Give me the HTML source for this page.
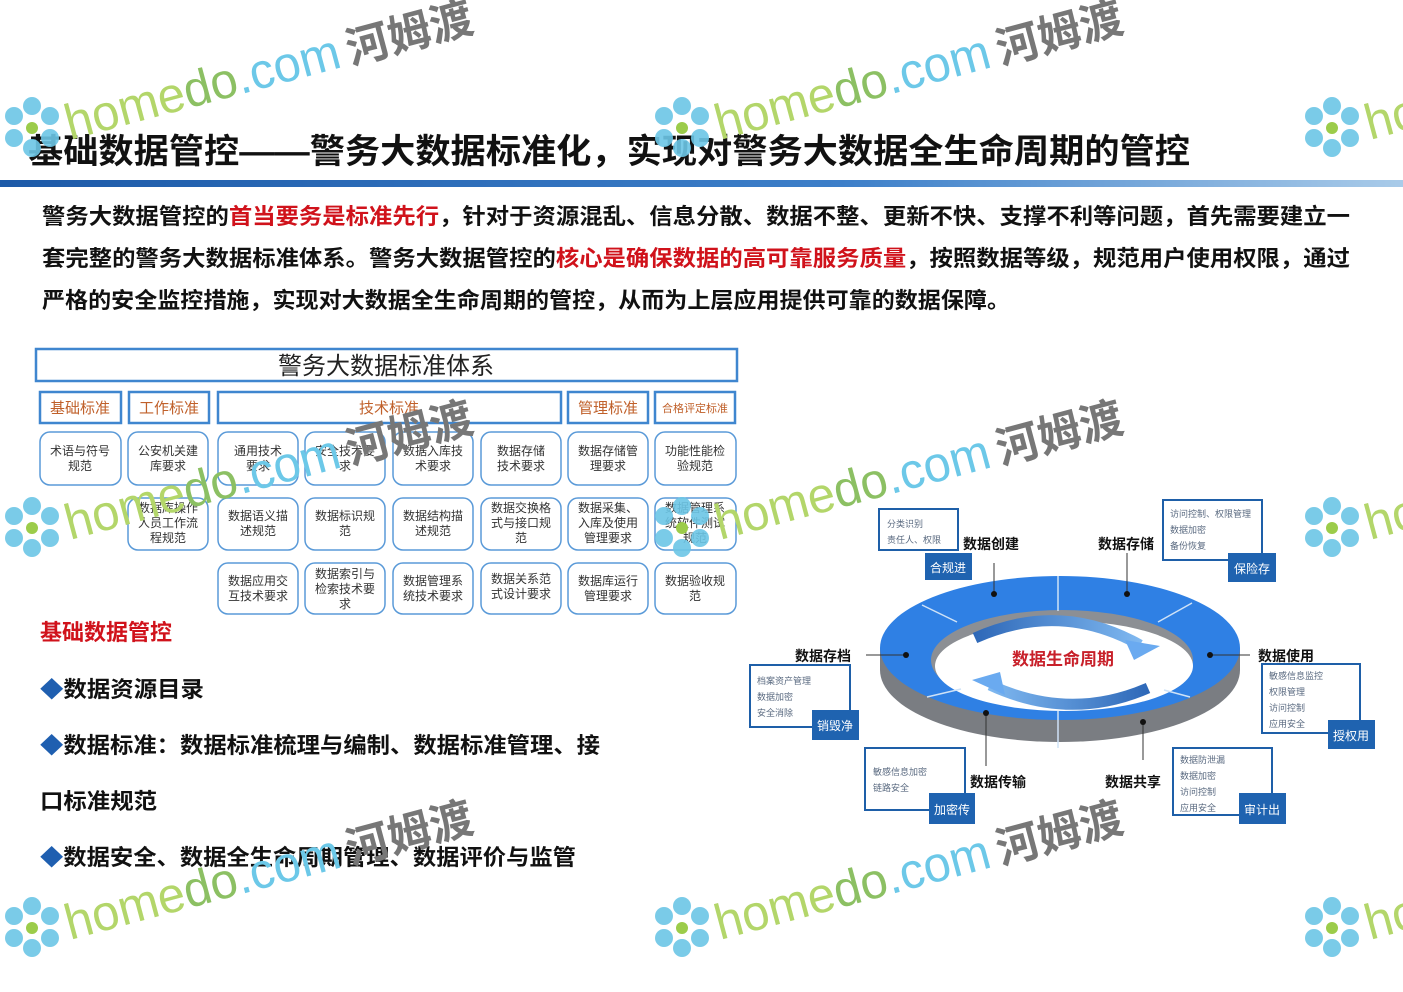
<!DOCTYPE html>
<html><head><meta charset="utf-8"><style>
html,body{margin:0;padding:0;background:#fff;}
svg{display:block;}
text{font-family:"Liberation Sans","Noto Sans CJK SC",sans-serif;}
</style></head><body>
<svg width="1403" height="992" viewBox="0 0 1403 992" xmlns="http://www.w3.org/2000/svg">
<defs>
<linearGradient id="bar" x1="0" x2="1"><stop offset="0" stop-color="#1d5aa8"/><stop offset="0.6" stop-color="#3d7fc9"/><stop offset="1" stop-color="#a9cbe9"/></linearGradient>
<linearGradient id="arr1" x1="0" x2="1"><stop offset="0" stop-color="#2e68b8"/><stop offset="1" stop-color="#7fb8f0"/></linearGradient>
<linearGradient id="arr2" x1="1" x2="0"><stop offset="0" stop-color="#2e68b8"/><stop offset="1" stop-color="#7fb8f0"/></linearGradient>
<g id="wm">
  <g fill="#6cc6e6" opacity="0.9">
    <circle cx="0" cy="-22" r="9"/><circle cx="18" cy="-12" r="9"/><circle cx="18" cy="10" r="9"/><circle cx="0" cy="20" r="9"/><circle cx="-18" cy="10" r="9"/><circle cx="-18" cy="-12" r="9"/>
  </g>
  <circle cx="0" cy="0" r="6" fill="#9ccc4a"/>
  <g transform="translate(38,12) rotate(-15)">
    <text x="0" y="0" font-size="50" fill="#b3d66a" font-family="Liberation Sans,sans-serif" textLength="420" lengthAdjust="spacingAndGlyphs">home<tspan fill="#8cc063">do</tspan><tspan fill="#6cc8e8">.com</tspan><tspan fill="#777" font-weight="bold" font-size="44" dx="8">河姆渡</tspan></text>
  </g>
</g>
</defs>

<text x="28" y="163" font-size="34" font-weight="bold" fill="#111" textLength="1162" lengthAdjust="spacingAndGlyphs">基础数据管控——警务大数据标准化，实现对警务大数据全生命周期的管控</text>
<rect x="0" y="180" width="1403" height="7" fill="url(#bar)"/>

<g font-size="22" font-weight="bold" fill="#111">
<text x="42" y="224" textLength="1308" lengthAdjust="spacingAndGlyphs">警务大数据管控的<tspan fill="#d0121b">首当要务是标准先行</tspan>，针对于资源混乱、信息分散、数据不整、更新不快、支撑不利等问题，首先需要建立一</text>
<text x="42" y="266" textLength="1308" lengthAdjust="spacingAndGlyphs">套完整的警务大数据标准体系。警务大数据管控的<tspan fill="#d0121b">核心是确保数据的高可靠服务质量</tspan>，按照数据等级，规范用户使用权限，通过</text>
<text x="42" y="308" textLength="968" lengthAdjust="spacingAndGlyphs">严格的安全监控措施，实现对大数据全生命周期的管控，从而为上层应用提供可靠的数据保障。</text>
</g>

<g fill="#fff" stroke="#3f86cf" stroke-width="2.5">
<rect x="36" y="349" width="701" height="32"/>
<rect x="40" y="392" width="81" height="31"/>
<rect x="129" y="392" width="80" height="31"/>
<rect x="218" y="392" width="343" height="31"/>
<rect x="568" y="392" width="80" height="31"/>
<rect x="655" y="392" width="80" height="31"/>
</g>
<text x="386" y="374" font-size="24" fill="#222" text-anchor="middle">警务大数据标准体系</text>
<g font-size="15" fill="#c0602a" text-anchor="middle">
<text x="80" y="413">基础标准</text><text x="169" y="413">工作标准</text><text x="389" y="413">技术标准</text><text x="608" y="413">管理标准</text><text x="695" y="412" font-size="11">合格评定标准</text>
</g>
<g fill="#fff" stroke="#5a9ad8" stroke-width="1.5">
<rect x="40" y="432" width="81" height="53" rx="10"/><rect x="128" y="432" width="80" height="53" rx="10"/><rect x="218" y="432" width="80" height="53" rx="10"/><rect x="305" y="432" width="80" height="53" rx="10"/><rect x="393" y="432" width="80" height="53" rx="10"/><rect x="481" y="432" width="80" height="53" rx="10"/><rect x="568" y="432" width="80" height="53" rx="10"/><rect x="655" y="432" width="81" height="53" rx="10"/>
<rect x="128" y="498" width="80" height="52" rx="10"/><rect x="218" y="498" width="80" height="52" rx="10"/><rect x="305" y="498" width="80" height="52" rx="10"/><rect x="393" y="498" width="80" height="52" rx="10"/><rect x="481" y="498" width="80" height="52" rx="10"/><rect x="568" y="498" width="80" height="52" rx="10"/><rect x="655" y="498" width="81" height="52" rx="10"/>
<rect x="218" y="563" width="80" height="51" rx="10"/><rect x="305" y="563" width="80" height="51" rx="10"/><rect x="393" y="563" width="80" height="51" rx="10"/><rect x="481" y="563" width="80" height="51" rx="10"/><rect x="568" y="563" width="80" height="51" rx="10"/><rect x="655" y="563" width="81" height="51" rx="10"/>
</g>
<g font-size="12" fill="#333" text-anchor="middle">
<text x="80" y="455">术语与符号</text><text x="80" y="470">规范</text>
<text x="168" y="455">公安机关建</text><text x="168" y="470">库要求</text>
<text x="258" y="455">通用技术</text><text x="258" y="470">要求</text>
<text x="345" y="455">安全技术要</text><text x="345" y="470">求</text>
<text x="433" y="455">数据入库技</text><text x="433" y="470">术要求</text>
<text x="521" y="455">数据存储</text><text x="521" y="470">技术要求</text>
<text x="608" y="455">数据存储管</text><text x="608" y="470">理要求</text>
<text x="695" y="455">功能性能检</text><text x="695" y="470">验规范</text>
<text x="168" y="512">数据库操作</text><text x="168" y="527">人员工作流</text><text x="168" y="542">程规范</text>
<text x="258" y="520">数据语义描</text><text x="258" y="535">述规范</text>
<text x="345" y="520">数据标识规</text><text x="345" y="535">范</text>
<text x="433" y="520">数据结构描</text><text x="433" y="535">述规范</text>
<text x="521" y="512">数据交换格</text><text x="521" y="527">式与接口规</text><text x="521" y="542">范</text>
<text x="608" y="512">数据采集、</text><text x="608" y="527">入库及使用</text><text x="608" y="542">管理要求</text>
<text x="695" y="512">数据管理系</text><text x="695" y="527">统软件测试</text><text x="695" y="542">规范</text>
<text x="258" y="585">数据应用交</text><text x="258" y="600">互技术要求</text>
<text x="345" y="578">数据索引与</text><text x="345" y="593">检索技术要</text><text x="345" y="608">求</text>
<text x="433" y="585">数据管理系</text><text x="433" y="600">统技术要求</text>
<text x="521" y="583">数据关系范</text><text x="521" y="598">式设计要求</text>
<text x="608" y="585">数据库运行</text><text x="608" y="600">管理要求</text>
<text x="695" y="585">数据验收规</text><text x="695" y="600">范</text>
</g>

<g font-size="22" font-weight="bold" fill="#111">
<text x="40" y="640" fill="#d0121b">基础数据管控</text>
<text x="40" y="697" textLength="164" lengthAdjust="spacingAndGlyphs"><tspan fill="#1f5fb0">◆</tspan>数据资源目录</text>
<text x="40" y="753" textLength="560" lengthAdjust="spacingAndGlyphs"><tspan fill="#1f5fb0">◆</tspan>数据标准：数据标准梳理与编制、数据标准管理、接</text>
<text x="40" y="809" textLength="117" lengthAdjust="spacingAndGlyphs">口标准规范</text>
<text x="40" y="865" textLength="536" lengthAdjust="spacingAndGlyphs"><tspan fill="#1f5fb0">◆</tspan>数据安全、数据全生命周期管理、数据评价与监管</text>
</g>

<ellipse cx="1060" cy="670" rx="180" ry="72" fill="#7a7d82"/>
<rect x="880" y="648" width="360" height="22" fill="#7a7d82"/>
<ellipse cx="1060" cy="648" rx="180" ry="72" fill="#2f80e4"/>
<ellipse cx="1062" cy="660" rx="131" ry="50" fill="#8c8f94"/>
<ellipse cx="1064" cy="666" rx="129" ry="45" fill="#fff"/>
<g stroke="#cfe2f7" stroke-width="1.5">
<line x1="1058" y1="576" x2="1058" y2="611"/>
<line x1="922" y1="605" x2="957" y2="622"/>
<line x1="1192" y1="603" x2="1158" y2="622"/>
<line x1="927" y1="697" x2="961" y2="689"/>
<line x1="1190" y1="697" x2="1164" y2="690"/>
<line x1="1058" y1="711" x2="1058" y2="748"/>
</g>
<path d="M975 638 Q1060 600 1140 645" fill="none" stroke="url(#arr1)" stroke-width="11"/>
<polygon points="1125,640 1160,646 1134,660" fill="#6aaaf0"/>
<path d="M1148 688 Q1070 722 990 685" fill="none" stroke="url(#arr2)" stroke-width="11"/>
<polygon points="1005,695 972,680 1000,672" fill="#6aaaf0"/>
<text x="1063" y="665" font-size="17" font-weight="bold" fill="#c8202a" text-anchor="middle">数据生命周期</text>

<g stroke="#333" stroke-width="1">
<line x1="994" y1="563" x2="994" y2="594"/><line x1="1127" y1="553" x2="1127" y2="594"/>
<line x1="866" y1="655" x2="906" y2="655"/><line x1="1210" y1="655" x2="1250" y2="655"/>
<line x1="986" y1="713" x2="986" y2="766"/><line x1="1143" y1="722" x2="1143" y2="760"/>
</g>
<g fill="#111"><circle cx="994" cy="594" r="3"/><circle cx="1127" cy="594" r="3"/><circle cx="906" cy="655" r="3"/><circle cx="1210" cy="655" r="3"/><circle cx="986" cy="713" r="3"/><circle cx="1143" cy="722" r="3"/></g>
<g font-size="14" font-weight="bold" fill="#111">
<text x="963" y="549">数据创建</text><text x="1098" y="549">数据存储</text>
<text x="795" y="661">数据存档</text><text x="1258" y="661">数据使用</text>
<text x="970" y="787">数据传输</text><text x="1105" y="787">数据共享</text>
</g>
<g fill="#fff" stroke="#1e5fa8" stroke-width="2">
<rect x="879" y="509" width="79" height="41"/>
<rect x="1163" y="500" width="99" height="60"/>
<rect x="750" y="665" width="100" height="62"/>
<rect x="1262" y="664" width="98" height="69"/>
<rect x="865" y="748" width="100" height="62"/>
<rect x="1173" y="748" width="99" height="67"/>
</g>
<g fill="#1f63b0">
<rect x="925" y="553" width="47" height="27"/><rect x="1228" y="553" width="48" height="29"/>
<rect x="812" y="710" width="47" height="30"/><rect x="1328" y="720" width="47" height="29"/>
<rect x="929" y="793" width="46" height="31"/><rect x="1239" y="793" width="47" height="31"/>
</g>
<g font-size="12" fill="#fff" text-anchor="middle">
<text x="948" y="572">合规进</text><text x="1252" y="573">保险存</text>
<text x="835" y="730">销毁净</text><text x="1351" y="740">授权用</text>
<text x="952" y="814">加密传</text><text x="1262" y="814">审计出</text>
</g>
<g font-size="9" fill="#5a6a80">
<text x="887" y="527">分类识别</text><text x="887" y="543">责任人、权限</text>
<text x="1170" y="517">访问控制、权限管理</text><text x="1170" y="533">数据加密</text><text x="1170" y="549">备份恢复</text>
<text x="757" y="684">档案资产管理</text><text x="757" y="700">数据加密</text><text x="757" y="716">安全消除</text>
<text x="1269" y="679">敏感信息监控</text><text x="1269" y="695">权限管理</text><text x="1269" y="711">访问控制</text><text x="1269" y="727">应用安全</text>
<text x="873" y="775">敏感信息加密</text><text x="873" y="791">链路安全</text>
<text x="1180" y="763">数据防泄漏</text><text x="1180" y="779">数据加密</text><text x="1180" y="795">访问控制</text><text x="1180" y="811">应用安全</text>
</g>

<use href="#wm" x="32" y="128"/><use href="#wm" x="682" y="128"/><use href="#wm" x="1332" y="128"/>
<use href="#wm" x="32" y="528"/><use href="#wm" x="682" y="528"/><use href="#wm" x="1332" y="528"/>
<use href="#wm" x="32" y="928"/><use href="#wm" x="682" y="928"/><use href="#wm" x="1332" y="928"/>
</svg>
</body></html>
